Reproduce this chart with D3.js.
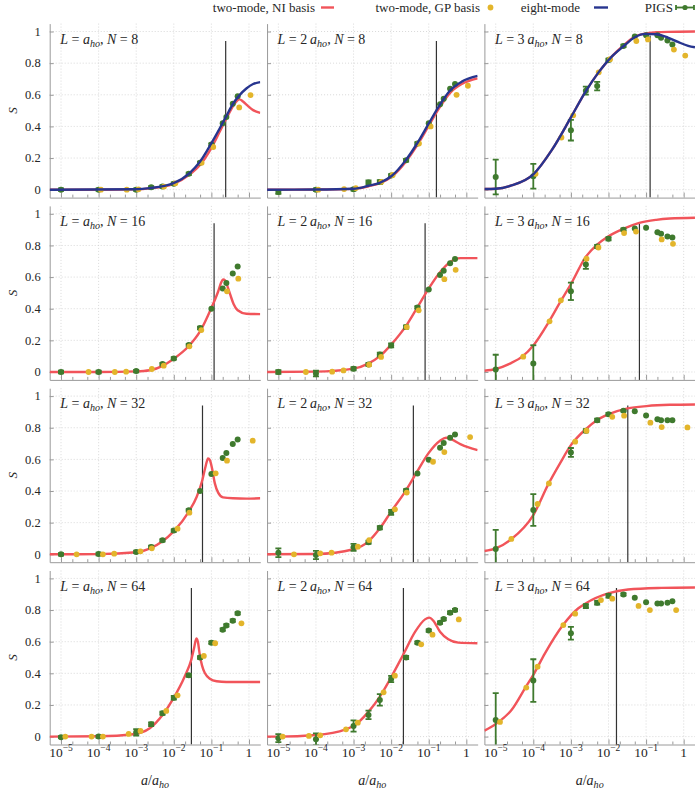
<!DOCTYPE html>
<html>
<head>
<meta charset="utf-8">
<script src="https://cdn.jsdelivr.net/npm/d3@7"></script>
<style>
  body { margin: 0; background: #fff; }
  svg text { font-family: "Liberation Serif", "Times New Roman", serif; fill: #262626; white-space: pre; }
</style>
</head>
<body>
<svg id="chart" width="695" height="790" font-family="Liberation Serif, serif"></svg>
<script>
// columns: L / a_ho, rows: N
const lengths = [1, 2, 3];
const sizes = [8, 16, 32, 64];

const yTicks = [0, 0.2, 0.4, 0.6, 0.8, 1];
const yTickLabels = ['0', '0.2', '0.4', '0.6', '0.8', '1'];
const xTicks = [1e-5, 1e-4, 1e-3, 1e-2, 1e-1, 1];
const xTickExp = ['\u22125', '\u22124', '\u22123', '\u22122', '\u22121', null];
const xMinor = [2e-5, 5e-5, 2e-4, 5e-4, 2e-3, 5e-3, 2e-2, 5e-2, 0.2, 0.5];

// panels are ordered row by row: (N=8: L=1,2,3), (N=16: ...), ...

// PIGS, common a grid
const pigsA = [1e-5, 1e-4, 1e-3, 2.5e-3, 5e-3, 1e-2, 2.5e-2, 5e-2, 0.1, 0.2, 0.25, 0.37, 0.5];
const pigsS = [
  [0, 0, 0, 0.015, 0.02, 0.038, 0.10, 0.17, 0.285, 0.42, 0.46, 0.543, 0.59],
  [-0.015, 0, 0.002, 0.046, 0.048, 0.09, 0.186, 0.292, 0.42, 0.54, 0.575, 0.638, 0.668],
  [0.08, 0.085, 0.376, 0.626, 0.655, 0.82, 0.909, 0.968, 0.977, 0.977, 0.96, 0.943, 0.918],
  [0, 0, 0.006, null, 0.05, 0.086, 0.17, 0.278, 0.40, 0.528, 0.562, 0.623, 0.667],
  [0, -0.01, 0.021, 0.048, 0.11, 0.168, 0.284, 0.408, 0.522, 0.613, 0.64, 0.688, 0.714],
  [0.015, 0.053, 0.51, 0.68, 0.794, 0.842, 0.90, 0.907, 0.912, 0.884, 0.874, 0.857, 0.85],
  [0, 0.002, 0.015, 0.046, 0.088, 0.15, 0.278, 0.40, 0.507, 0.608, 0.64, 0.697, 0.726],
  [0.01, -0.004, 0.044, 0.076, 0.168, 0.265, 0.404, 0.51, 0.598, 0.674, 0.703, 0.737, 0.758],
  [0.034, 0.28, 0.644, 0.781, 0.848, 0.886, 0.907, 0.905, 0.878, 0.853, 0.848, 0.848, 0.848],
  [-0.004, 0, 0.027, 0.078, 0.147, 0.246, 0.387, 0.50, 0.594, 0.676, 0.703, 0.733, 0.779],
  [-0.01, -0.017, 0.067, 0.137, 0.232, 0.364, 0.50, 0.594, 0.67, 0.72, 0.743, 0.783, 0.80],
  [0.105, 0.354, 0.653, 0.825, 0.846, 0.89, 0.899, 0.878, 0.85, 0.842, 0.842, 0.846, 0.855]
];
const pigsErr = [
  [0.008, 0.008, 0.008, 0.008, 0.008, 0.008, 0.008, 0.008, 0.008, 0, 0, 0, 0],
  [0.012, 0.008, 0.008, 0.012, 0.012, 0.008, 0.008, 0.008, 0, 0, 0, 0, 0],
  [0.11, 0.078, 0.065, 0.025, 0.027, 0.008, 0.008, 0, 0, 0, 0, 0, 0],
  [0.008, 0.008, 0.008, 0.008, 0.008, 0.008, 0.008, 0.008, 0, 0, 0, 0, 0],
  [0.012, 0.018, 0.01, 0.01, 0.012, 0.012, 0.01, 0.008, 0, 0, 0, 0, 0],
  [0.094, 0.116, 0.055, 0.028, 0.01, 0.01, 0.008, 0, 0, 0, 0, 0, 0],
  [0.008, 0.008, 0.008, 0.008, 0.008, 0.008, 0.008, 0, 0, 0, 0, 0, 0],
  [0.028, 0.026, 0.022, 0.01, 0.01, 0.016, 0.008, 0, 0, 0, 0, 0, 0],
  [0.12, 0.10, 0.028, 0.01, 0.01, 0.008, 0.005, 0, 0, 0, 0, 0, 0],
  [0.006, 0.008, 0.02, 0.012, 0.01, 0.012, 0.01, 0.008, 0.008, 0.008, 0.008, 0.008, 0.008],
  [0.025, 0.037, 0.035, 0.027, 0.036, 0.02, 0.01, 0.008, 0.008, 0.008, 0.008, 0.008, 0.008],
  [0.17, 0.135, 0.04, 0.012, 0.012, 0.012, 0.008, 0, 0, 0, 0, 0, 0]
];

// two-mode, GP basis: a grid per row
const gpA = [
  [1.15e-4, 5.6e-4, 1.15e-3, 5.5e-3, 1.1e-2, 5.5e-2, 0.112, 0.55, 1.1],
  [5.4e-5, 2.7e-4, 5.4e-4, 2.6e-3, 5.4e-3, 2.6e-2, 5.4e-2, 0.26, 0.52],
  [2.6e-5, 1.3e-4, 2.6e-4, 1.3e-3, 2.6e-3, 1.26e-2, 2.6e-2, 0.13, 0.26, 1.26],
  [1.3e-5, 6.5e-5, 1.3e-4, 6.3e-4, 1.3e-3, 6.3e-3, 1.26e-2, 6.3e-2, 0.126, 0.63]
];
const gpS = [
  [0, 0, 0.002, 0.02, 0.04, 0.17, 0.27, 0.52, 0.598],
  [0, 0.004, 0.01, 0.05, 0.093, 0.292, 0.40, 0.60, 0.657],
  [0.10, 0.33, 0.47, 0.742, 0.825, 0.94, 0.95, 0.886, 0.848],
  [0, 0, 0.002, 0.019, 0.04, 0.162, 0.265, 0.51, 0.59],
  [0, 0.002, 0.01, 0.046, 0.095, 0.284, 0.39, 0.587, 0.646],
  [0.097, 0.32, 0.453, 0.716, 0.787, 0.878, 0.888, 0.838, 0.81],
  [0, 0, 0.004, 0.019, 0.038, 0.162, 0.263, 0.512, 0.592, 0.718],
  [0, 0.006, 0.01, 0.048, 0.09, 0.284, 0.39, 0.585, 0.646, 0.741],
  [0.097, 0.318, 0.448, 0.712, 0.781, 0.869, 0.876, 0.832, 0.804, 0.802],
  [0, 0, 0, 0.017, 0.036, 0.162, 0.261, 0.51, 0.59, 0.716],
  [0, 0.004, 0.008, 0.046, 0.088, 0.28, 0.385, 0.583, 0.644, 0.741],
  [0.093, 0.31, 0.442, 0.705, 0.777, 0.863, 0.872, 0.826, 0.80, 0.80]
];

// two-mode, NI basis curves, read as [log10(a/a_ho), S]
const niCurves = [
  [[-5.3,0],[-4,0],[-3,0.002],[-2.64,0.008],[-2.02,0.035],[-1.58,0.095],[-1.31,0.154],[-1.01,0.26],[-0.78,0.366],[-0.6,0.45],[-0.42,0.53],[-0.32,0.562],[-0.25,0.571],[-0.16,0.558],[-0.03,0.53],[0.11,0.503],[0.3,0.486]],
  [[-5.3,0],[-4,0.001],[-3,0.005],[-2.6,0.022],[-2.29,0.042],[-1.98,0.083],[-1.6,0.18],[-1.31,0.28],[-1.01,0.40],[-0.71,0.52],[-0.42,0.615],[-0.12,0.668],[0.3,0.704]],
  [[-5.3,0.004],[-5,0.006],[-4.58,0.027],[-4,0.097],[-3.51,0.25],[-3,0.457],[-2.61,0.62],[-2.27,0.74],[-1.92,0.84],[-1.61,0.91],[-1.3,0.968],[-1.01,0.988],[-0.73,0.995],[-0.42,0.998],[0.3,1.0]],
  [[-5.3,0],[-4,0],[-3,0.004],[-2.64,0.011],[-2.28,0.04],[-2.02,0.08],[-1.6,0.164],[-1.31,0.253],[-1.01,0.40],[-0.82,0.509],[-0.74,0.565],[-0.69,0.585],[-0.63,0.578],[-0.57,0.54],[-0.5,0.49],[-0.41,0.43],[-0.3,0.39],[-0.07,0.368],[0.3,0.366]],
  [[-5.3,0],[-4,0.002],[-3,0.021],[-2.61,0.053],[-2.3,0.10],[-2,0.173],[-1.6,0.293],[-1.31,0.406],[-1.01,0.524],[-0.7,0.63],[-0.43,0.695],[-0.16,0.72],[0.3,0.72]],
  [[-5.3,0.008],[-5,0.019],[-4.62,0.053],[-4.28,0.10],[-4,0.168],[-3.58,0.32],[-3.29,0.44],[-3,0.555],[-2.61,0.726],[-2.31,0.804],[-2.01,0.857],[-1.61,0.905],[-1.18,0.943],[-0.73,0.962],[-0.37,0.97],[0.3,0.975]],
  [[-5.3,0],[-4,0.001],[-3,0.013],[-2.59,0.042],[-2.3,0.082],[-2.01,0.143],[-1.6,0.27],[-1.39,0.364],[-1.24,0.47],[-1.15,0.56],[-1.09,0.606],[-1.04,0.595],[-0.98,0.54],[-0.91,0.45],[-0.82,0.39],[-0.69,0.36],[-0.42,0.354],[-0.07,0.352],[0.3,0.354]],
  [[-5.3,0],[-4,0.002],[-3,0.032],[-2.61,0.08],[-2.3,0.164],[-2,0.27],[-1.6,0.406],[-1.31,0.522],[-1.01,0.638],[-0.7,0.718],[-0.54,0.737],[-0.39,0.726],[-0.16,0.697],[0.06,0.676],[0.3,0.659]],
  [[-5.3,0.021],[-5,0.038],[-4.59,0.095],[-4,0.248],[-3.59,0.448],[-3.29,0.575],[-3,0.69],[-2.61,0.79],[-2.31,0.848],[-2.01,0.884],[-1.49,0.922],[-0.99,0.937],[-0.37,0.945],[0.3,0.947]],
  [[-5.3,0],[-4,0.002],[-3.08,0.015],[-2.64,0.053],[-2.3,0.137],[-2.01,0.242],[-1.71,0.38],[-1.53,0.49],[-1.46,0.56],[-1.4,0.62],[-1.36,0.60],[-1.31,0.52],[-1.25,0.45],[-1.17,0.40],[-1.04,0.366],[-0.86,0.35],[-0.6,0.345],[0.3,0.345]],
  [[-5.3,0],[-5,0],[-4,0.01],[-3.21,0.046],[-3,0.067],[-2.6,0.158],[-2.3,0.253],[-2,0.375],[-1.67,0.522],[-1.36,0.663],[-1.1,0.741],[-0.99,0.752],[-0.88,0.733],[-0.7,0.663],[-0.48,0.615],[-0.21,0.594],[0.3,0.59]],
  [[-5.3,0.038],[-5,0.08],[-4.58,0.168],[-4.21,0.31],[-4,0.39],[-3.69,0.526],[-3.21,0.705],[-2.81,0.81],[-2.61,0.842],[-2.01,0.905],[-1.48,0.93],[-0.59,0.94],[0.3,0.943]]
];

// eight-mode curves, N = 8 row only, [log10(a/a_ho), S]
const eightCurves = [
  [[-5.3,0],[-3,0.003],[-2.64,0.01],[-2.02,0.04],[-1.58,0.105],[-1.31,0.175],[-1.01,0.29],[-0.78,0.387],[-0.6,0.467],[-0.42,0.545],[-0.25,0.598],[-0.07,0.64],[0.11,0.668],[0.3,0.68]],
  [[-5.3,0],[-4,0.001],[-3,0.006],[-2.6,0.025],[-2.29,0.045],[-1.98,0.088],[-1.6,0.19],[-1.31,0.292],[-1.01,0.414],[-0.71,0.535],[-0.42,0.63],[-0.12,0.683],[0.3,0.719]],
  [[-5.3,0.004],[-5,0.006],[-4.58,0.027],[-4,0.097],[-3.51,0.25],[-3,0.457],[-2.61,0.62],[-2.27,0.74],[-1.92,0.84],[-1.61,0.905],[-1.3,0.964],[-1.01,0.985],[-0.73,0.983],[-0.42,0.962],[-0.15,0.934],[0.12,0.909],[0.3,0.90]]
];

// vertical marker line per panel: a position and top value
const critA = [0.24, 0.16, 0.128, 0.118, 0.080, 0.0665, 0.058, 0.039, 0.0326, 0.0294, 0.0212, 0.0163];
const critTop = [0.94, 0.94, 0.975, 0.94, 0.94, 0.94, 0.94, 0.94, 0.94, 0.94, 0.94, 0.94];

const red = '#f1545a', blue = '#27358f', yellow = '#e3b52b', green = '#3f7a2e';
const W = 210.6, H = 174, left0 = 49.7, colStep = 217.35, top0 = 23.6, rowStep = 182.3;

const svg = d3.select('#chart');

function mathLabel(sel, parts) {
  // parts: [text, italic, sub]
  parts.forEach(([t, it, sub], i) => {
    const ts = sel.append('tspan').text(t);
    if (it) ts.attr('font-style', 'italic');
    if (sub) ts.attr('font-size', '0.72em').attr('dy', 3);
    else if (i > 0 && parts[i - 1][2]) ts.attr('dy', -3);
  });
}

sizes.forEach((N, r) => {
  lengths.forEach((L, c) => {
    const p = r * 3 + c;
    const x0 = left0 + c * colStep, y0 = top0 + r * rowStep;
    const x = d3.scaleLog().domain([5e-6, 2]).range([x0, x0 + W]);
    const y = d3.scaleLinear().domain([-0.05, 1.05]).range([y0 + H, y0]);
    const g = svg.append('g');

    svg.append('clipPath').attr('id', 'clip' + p)
      .append('rect').attr('x', x0).attr('y', y0).attr('width', W).attr('height', H);

    // grid
    g.selectAll('.gx').data(xTicks).enter().append('line')
      .attr('x1', d => x(d)).attr('x2', d => x(d)).attr('y1', y0).attr('y2', y0 + H)
      .attr('stroke', '#cfcfcf').attr('stroke-width', 0.8).attr('stroke-dasharray', '1,2');
    g.selectAll('.gy').data(yTicks).enter().append('line')
      .attr('x1', x0).attr('x2', x0 + W).attr('y1', d => y(d)).attr('y2', d => y(d))
      .attr('stroke', '#cfcfcf').attr('stroke-width', 0.8).attr('stroke-dasharray', '1,2');

    // axes
    g.append('g').attr('transform', `translate(0,${y0 + H})`)
      .call(d3.axisBottom(x).tickValues(xTicks).tickSize(-5).tickSizeOuter(0).tickFormat(''));
    const axm = g.append('g').attr('transform', `translate(0,${y0 + H})`)
      .call(d3.axisBottom(x).tickValues(xMinor).tickSize(-3).tickSizeOuter(0).tickFormat(''));
    axm.select('.domain').remove();
    g.append('g').attr('transform', `translate(${x0},0)`)
      .call(d3.axisLeft(y).tickValues(yTicks).tickSize(-4).tickSizeOuter(0).tickFormat(''));
    g.selectAll('.domain').attr('stroke', '#9a9a9a');
    g.selectAll('.tick line').attr('stroke', '#9a9a9a');

    const data = g.append('g').attr('clip-path', `url(#clip${p})`);

    // vertical marker
    data.append('line')
      .attr('x1', x(critA[p])).attr('x2', x(critA[p]))
      .attr('y1', y(critTop[p])).attr('y2', y0 + H)
      .attr('stroke', '#333').attr('stroke-width', 1.2);

    const line = d3.line()
      .x(d => x(Math.pow(10, d[0]))).y(d => y(d[1]))
      .curve(d3.curveMonotoneX);

    data.append('path').attr('d', line(niCurves[p]))
      .attr('fill', 'none').attr('stroke', red).attr('stroke-width', 2.4);

    // PIGS with error bars
    const pigs = pigsA.map((a, i) => ({ a, s: pigsS[p][i], e: pigsErr[p][i] }))
      .filter(d => d.s !== null);
    const eb = data.append('g').attr('stroke', green).attr('stroke-width', 1.8);
    pigs.filter(d => d.e > 0).forEach(d => {
      const cx = x(d.a);
      eb.append('line').attr('x1', cx).attr('x2', cx).attr('y1', y(d.s - d.e)).attr('y2', y(d.s + d.e));
      [d.s - d.e, d.s + d.e].forEach(v => {
        eb.append('line').attr('x1', cx - 3).attr('x2', cx + 3).attr('y1', y(v)).attr('y2', y(v));
      });
    });
    data.append('g').selectAll('circle').data(pigs).enter().append('circle')
      .attr('cx', d => x(d.a)).attr('cy', d => y(d.s)).attr('r', 3).attr('fill', green);

    // GP basis points
    data.append('g').selectAll('circle').data(gpA[r].map((a, i) => [a, gpS[p][i]])).enter()
      .append('circle')
      .attr('cx', d => x(d[0])).attr('cy', d => y(d[1])).attr('r', 2.9).attr('fill', yellow);

    if (r === 0) {
      data.append('path').attr('d', line(eightCurves[c]))
        .attr('fill', 'none').attr('stroke', blue).attr('stroke-width', 2.4);
    }

    // panel label
    const lab = g.append('text').attr('x', x0 + 10.5).attr('y', y0 + 20).attr('font-size', 14);
    mathLabel(lab, [['L', true], [L === 1 ? ' = ' : ` = ${L}\u2009`], ['a', true], ['ho', true, true],
      [', '], ['N', true], [` = ${N}`]]);

    // tick labels
    if (c === 0) {
      g.selectAll('.yl').data(yTicks).enter().append('text')
        .attr('x', x0 - 9).attr('y', d => y(d) + 4.3)
        .attr('text-anchor', 'end').attr('font-size', 12.5)
        .text((d, i) => yTickLabels[i]);
      g.append('text')
        .attr('transform', `translate(16.5,${y(0.5)}) rotate(-90)`)
        .attr('text-anchor', 'middle').attr('font-size', 13).attr('font-style', 'italic')
        .text('S');
    }
    if (r === sizes.length - 1) {
      xTicks.forEach((t, i) => {
        const tl = g.append('text').attr('x', x(t)).attr('y', y0 + H + 12)
          .attr('text-anchor', 'middle').attr('font-size', 13.5);
        if (xTickExp[i]) {
          tl.append('tspan').text('10');
          tl.append('tspan').attr('font-size', 9.5).attr('dy', -5.5).text(xTickExp[i]);
        } else {
          tl.text('1');
        }
      });
      const xl = g.append('text').attr('x', x0 + W / 2).attr('y', 785)
        .attr('text-anchor', 'middle').attr('font-size', 14);
      mathLabel(xl, [['a', true], ['/'], ['a', true], ['ho', true, true]]);
    }
  });
});

// legend
const lg = svg.append('g').attr('font-size', 13);
const ly = 7.5;
lg.append('text').attr('x', 315).attr('y', ly + 4.5).attr('text-anchor', 'end').text('two-mode, NI basis');
lg.append('line').attr('x1', 321).attr('x2', 334).attr('y1', ly).attr('y2', ly)
  .attr('stroke', red).attr('stroke-width', 2.4);
lg.append('text').attr('x', 480).attr('y', ly + 4.5).attr('text-anchor', 'end').text('two-mode, GP basis');
lg.append('circle').attr('cx', 490.5).attr('cy', ly).attr('r', 2.9).attr('fill', yellow);
lg.append('text').attr('x', 580).attr('y', ly + 4.5).attr('text-anchor', 'end').text('eight-mode');
lg.append('line').attr('x1', 594).attr('x2', 608).attr('y1', ly).attr('y2', ly)
  .attr('stroke', blue).attr('stroke-width', 2.4);
lg.append('text').attr('x', 673).attr('y', ly + 4.5).attr('text-anchor', 'end').text('PIGS');
const lp = lg.append('g').attr('stroke', green).attr('stroke-width', 1.8);
lp.append('line').attr('x1', 676).attr('x2', 694).attr('y1', ly).attr('y2', ly);
[676, 694].forEach(v => lp.append('line').attr('x1', v).attr('x2', v).attr('y1', ly - 2.5).attr('y2', ly + 2.5));
lg.append('circle').attr('cx', 685).attr('cy', ly).attr('r', 2.6).attr('fill', green);
</script>
</body>
</html>
